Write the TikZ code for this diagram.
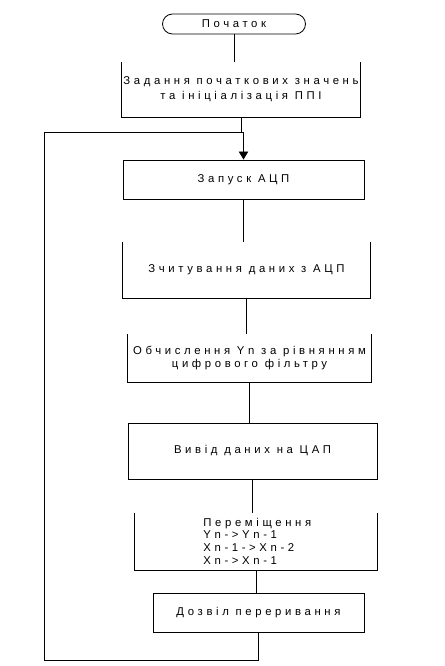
\documentclass[tikz,border=0pt]{standalone}
\usepackage{fontspec}
\newfontfamily\blockfont[LetterSpace=32]{Liberation Sans}
\usetikzlibrary{arrows.meta}

\begin{document}
\begin{tikzpicture}[x=0.75pt,y=-0.75pt,line width=0.6pt,
  blk/.style={draw,inner sep=0pt,align=center,font=\blockfont\fontsize{8.5}{9.5}\selectfont},
  openblk/.style={inner sep=0pt,align=center,font=\blockfont\fontsize{8.5}{9.5}\selectfont},
  term/.style={draw,rounded corners=7.5pt,inner sep=0pt,font=\blockfont\fontsize{8.5}{9.5}\selectfont},
  arr/.style={-{Triangle[length=6pt,width=7pt]}}]
    \useasboundingbox (0,0) rectangle (444,666);

    %blocks
    \node (start) at (234,24) [term,minimum width=107.25pt,minimum height=15pt]{Початок};
    \node (init) at (241,89.5) [openblk,minimum width=178.5pt,minimum height=41.25pt]{Задання початкових значень\\[2pt]та ініціалізація ППІ};
    \node (adcstart) at (243.5,179.5) [blk,minimum width=180.75pt,minimum height=29.25pt]{Запуск АЦП};
    \node (read) at (246.5,270) [openblk,minimum width=185.25pt,minimum height=42pt]{Зчитування даних з АЦП};
    \node (calc) at (249.5,358) [openblk,minimum width=182.25pt,minimum height=35.25pt]{Обчислення Yn за рівнянням\\цифрового фільтру};
    \node (out) at (252.5,451) [blk,minimum width=186.75pt,minimum height=42pt]{Вивід даних на ЦАП};
    \node (shift) at (256,541.5) [openblk,minimum width=181.5pt,minimum height=42.75pt]{};
    \node (shifttxt) at (203,541) [openblk,anchor=west,align=left]{Переміщення\\Yn->Yn-1\\Xn-1->Xn-2\\Xn->Xn-1};
    \node (irq) at (258.5,612.5) [blk,minimum width=158.25pt,minimum height=29.25pt]{Дозвіл переривання};

    %open tops
    \draw (init.north west) -- (init.south west) -- (init.south east) -- (init.north east);
    \draw (read.north west) -- (read.south west) -- (read.south east) -- (read.north east);
    \draw (calc.north west) -- (calc.south west) -- (calc.south east) -- (calc.north east);
    \draw (shift.north west) -- (shift.south west) -- (shift.south east) -- (shift.north east);

    %loop corners
    \coordinate (lb) at (44,660);
    \coordinate (lt) at (44,132);

    %down links
    \draw (start.south) -- (start.south |- init.north);
    \draw (init.south) -- (init.south |- lt);
    \draw (adcstart.south) -- (adcstart.south |- read.north);
    \draw (read.south) -- (read.south |- calc.north);
    \draw (calc.south) -- (calc.south |- out.north);
    \draw (out.south) -- (out.south |- shift.north);
    \draw (shift.south) -- (shift.south |- irq.north);

    %loop back
    \draw [arr] (irq.south) |- (lb) -- (lt) -| (adcstart.north);
\end{tikzpicture}
\end{document}
